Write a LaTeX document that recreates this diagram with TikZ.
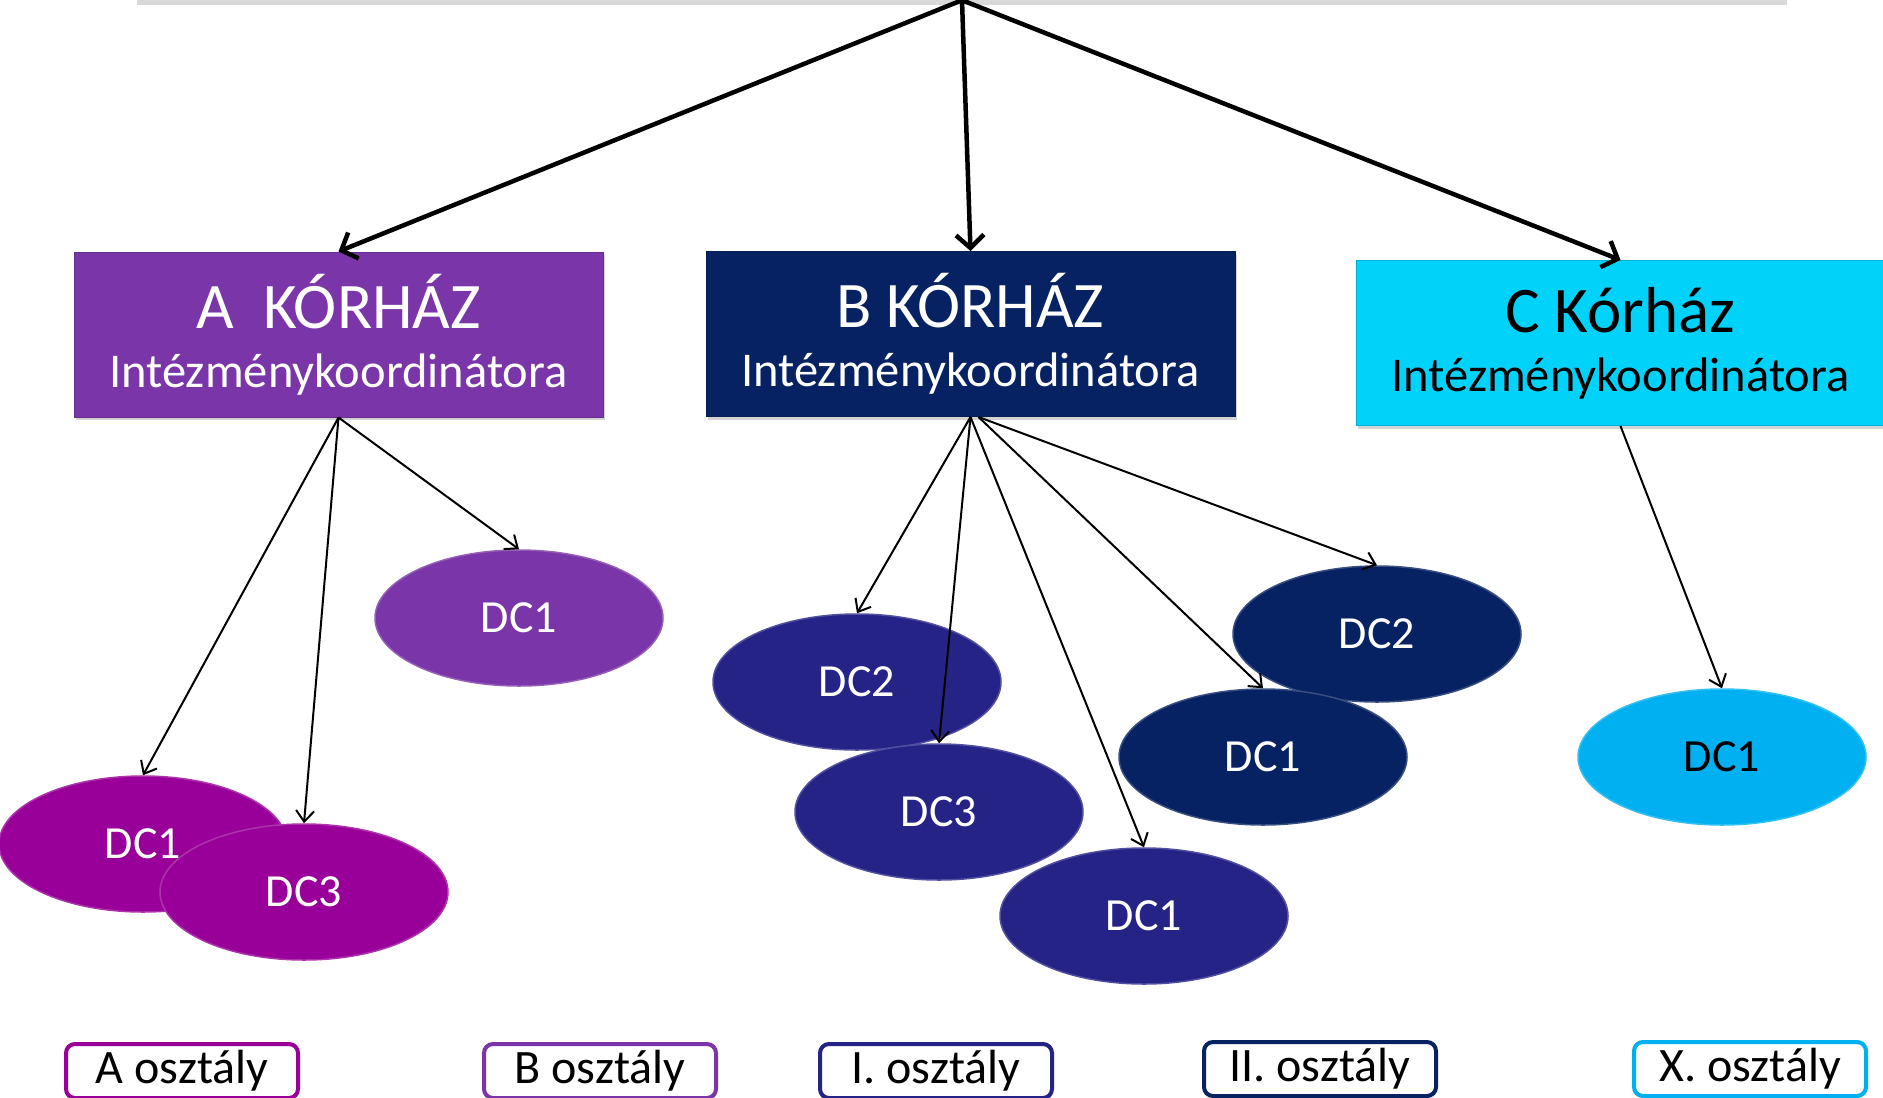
\documentclass[tikz,border=0pt]{standalone}
\usepackage{fontspec}
\setmainfont{Carlito}
\usetikzlibrary{shapes.geometric,shadows,arrows.meta}

\definecolor{purpA}{HTML}{7A36A8}
\definecolor{magA}{HTML}{990099}
\definecolor{navyB}{HTML}{062262}
\definecolor{indigoB}{HTML}{262387}
\definecolor{cyanC}{HTML}{00D2FA}
\definecolor{skyC}{HTML}{00B0F0}

\begin{document}
\begin{tikzpicture}[
	x=1pt, y=-1pt,
	korhaz/.style={
		rectangle, minimum width=529pt, minimum height=165pt,
		inner sep=0pt, align=center, text=white,
		fill=#1, draw=#1!85!black, line width=1pt,
		font=\fontsize{48.5}{59}\selectfont,
		drop shadow={opacity=0.35, shadow xshift=2pt, shadow yshift=-3pt}
	},
	dc/.style={
		ellipse, minimum width=288pt, minimum height=136pt,
		inner sep=0pt, fill=#1, draw=#1!80!white, line width=1.5pt,
		text=white, font=\fontsize{46}{46}\selectfont
	},
	osztaly/.style={
		rectangle, rounded corners=9pt, draw=#1, line width=4pt,
		fill=white, minimum width=232pt, minimum height=54pt,
		inner sep=0pt, font=\fontsize{48}{48}\selectfont
	},
	mainarrow/.style={-{Straight Barb[length=13pt,width=28pt]}, line width=4.5pt},
	subarrow/.style={-{Straight Barb[length=11pt,width=18pt]}, line width=2pt}
	]
	\useasboundingbox (0,0) rectangle (1883,1098);
	\node[fill=white, minimum width=1650pt, minimum height=100pt,
		drop shadow={opacity=0.3, shadow xshift=0pt, shadow yshift=-5pt}] (top) at (962,-50) {};

	\node[korhaz=purpA] (A) at (338.5,334.5) {{\fontsize{65}{65}\selectfont A\ \ KÓRHÁZ}\\Intézménykoordinátora};
	\node[korhaz=navyB] (B) at (970.5,334) {{\fontsize{65}{65}\selectfont B KÓRHÁZ}\\Intézménykoordinátora};
	\node[korhaz=cyanC, text=black] (C) at (1620.5,343) {{\fontsize{65}{65}\selectfont C Kórház}\\Intézménykoordinátora};

	\node[dc=magA] (aDCa) at (143,844) {DC1};
	\node[dc=magA] (aDCc) at (304,892) {DC3};
	\node[dc=purpA] (aDCb) at (519,618) {DC1};
	\node[dc=indigoB] (bDCb) at (857,682) {DC2};
	\node[dc=indigoB] (bDCc) at (939,812) {DC3};
	\node[dc=indigoB] (bDCa) at (1144,916) {DC1};
	\node[dc=navyB] (bDCe) at (1377,634) {DC2};
	\node[dc=navyB] (bDCd) at (1263,757) {DC1};
	\node[dc=skyC, text=black] (cDCa) at (1722,757) {DC1};

	\foreach \i in {A,B,C}
		\draw[mainarrow] (top.south) -- (\i.north);
	\foreach \from/\to in {A/aDCa, A/aDCc, A/aDCb, B/bDCb, B/bDCc, B/bDCa, C/cDCa}
		\draw[subarrow] (\from.south) -- (\to.north);
	\draw[subarrow] ([xshift=8pt]B.south) -- (bDCd.north);
	\draw[subarrow] ([xshift=8pt]B.south) -- (bDCe.north);

	\node[osztaly=magA] (oA) at (182,1071) {A osztály};
	\node[osztaly=purpA] (oB) at (600,1071) {B osztály};
	\node[osztaly=indigoB] (oI) at (936,1071) {I. osztály};
	\node[osztaly=navyB] (oII) at (1320,1069) {II. osztály};
	\node[osztaly=skyC] (oX) at (1750,1069) {X. osztály};
\end{tikzpicture}
\end{document}
